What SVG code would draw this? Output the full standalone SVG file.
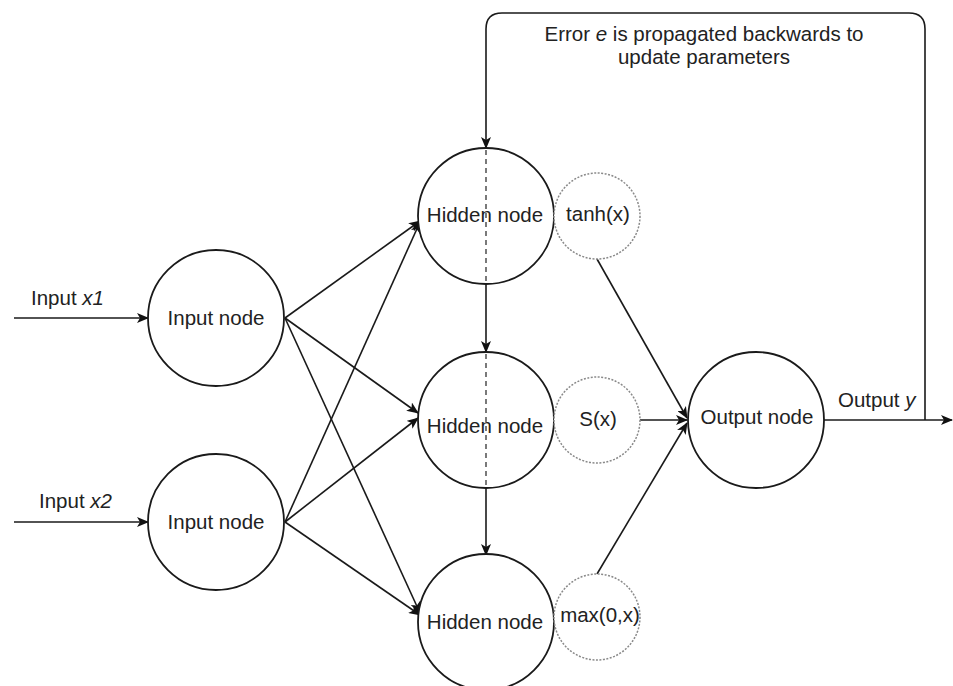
<svg xmlns="http://www.w3.org/2000/svg" width="953" height="686" viewBox="0 0 953 686">
  <defs>
    <marker id="arrow" viewBox="0 0 12 10" refX="11" refY="5" markerWidth="12" markerHeight="10" markerUnits="userSpaceOnUse" orient="auto">
      <path d="M0,0 L12,5 L0,10 L3,5 z" fill="#111"/>
    </marker>
  </defs>
  <style>
    .node { fill: #fff; stroke: #1a1a1a; stroke-width: 1.8; }
    .act { fill: #fff; stroke: #8a8a8a; stroke-width: 1.5; stroke-dasharray: 2 1.5; }
    .edge { fill: none; stroke: #1a1a1a; stroke-width: 1.6; }
    .arr { marker-end: url(#arrow); }
    .dash { fill: none; stroke: #333; stroke-width: 1.3; stroke-dasharray: 5 4; }
    text { font-family: "Liberation Sans", Arial, sans-serif; font-size: 20.5px; fill: #222; }
    .c { text-anchor: middle; }
  </style>
  <rect width="953" height="686" fill="#fff"/>

  <!-- connectors -->
  <g id="connectors">
    <!-- external inputs -->
    <line class="edge arr" x1="14" y1="318" x2="148" y2="318"/>
    <line class="edge arr" x1="14" y1="522" x2="148" y2="522"/>
    <!-- input layer to hidden layer -->
    <line class="edge arr" x1="285" y1="318" x2="420" y2="221"/>
    <line class="edge arr" x1="285" y1="318" x2="418" y2="413"/>
    <line class="edge arr" x1="285" y1="318" x2="420" y2="613"/>
    <line class="edge arr" x1="285" y1="522" x2="420" y2="222"/>
    <line class="edge arr" x1="285" y1="522" x2="418" y2="418"/>
    <line class="edge arr" x1="285" y1="522" x2="420" y2="615"/>
    <!-- activations to output -->
    <line class="edge arr" x1="597" y1="259" x2="687" y2="418"/>
    <line class="edge arr" x1="640" y1="420" x2="687" y2="420"/>
    <line class="edge arr" x1="597" y1="574" x2="687" y2="423"/>
    <!-- output and backward error path -->
    <line class="edge arr" x1="824" y1="420" x2="952" y2="420"/>
    <path class="edge arr" d="M925,420 L925,29 Q925,13 909,13 L502,13 Q486,13 486,29 L486,148"/>
    <!-- vertical update path through hidden layer -->
    <line class="edge arr" x1="486" y1="284" x2="486" y2="352"/>
    <line class="edge arr" x1="486" y1="487" x2="486" y2="555"/>
  </g>

  <!-- input nodes -->
  <g id="input1">
    <circle class="node" cx="216" cy="318" r="68"/>
    <text class="c" x="216" y="325">Input node</text>
  </g>
  <g id="input2">
    <circle class="node" cx="216" cy="522" r="68"/>
    <text class="c" x="216" y="529">Input node</text>
  </g>

  <!-- hidden nodes -->
  <g id="hidden1">
    <circle class="node" cx="486" cy="216" r="68"/>
    <line class="dash" x1="486" y1="150" x2="486" y2="282"/>
    <text class="c" x="485" y="222">Hidden node</text>
  </g>
  <g id="hidden2">
    <circle class="node" cx="486" cy="420" r="68"/>
    <line class="dash" x1="486" y1="354" x2="486" y2="486"/>
    <text class="c" x="485" y="433">Hidden node</text>
  </g>
  <g id="hidden3">
    <circle class="node" cx="486" cy="622" r="68"/>
    <text class="c" x="485" y="629">Hidden node</text>
  </g>

  <!-- activation functions -->
  <g id="act-tanh">
    <circle class="act" cx="597" cy="216" r="43"/>
    <text class="c" x="598" y="221">tanh(x)</text>
  </g>
  <g id="act-sigmoid">
    <circle class="act" cx="597" cy="420" r="43"/>
    <text class="c" x="598" y="426">S(x)</text>
  </g>
  <g id="act-relu">
    <circle class="act" cx="597" cy="617" r="43"/>
    <text class="c" x="600" y="622">max(0,x)</text>
  </g>

  <!-- output node -->
  <g id="output">
    <circle class="node" cx="756" cy="420" r="68"/>
    <text class="c" x="757" y="424">Output node</text>
  </g>

  <!-- edge labels -->
  <g id="labels">
    <text x="31" y="305">Input <tspan font-style="italic">x1</tspan></text>
    <text x="39" y="508">Input <tspan font-style="italic">x2</tspan></text>
    <text x="838" y="407">Output <tspan font-style="italic">y</tspan></text>
    <text class="c" x="704" y="41">Error <tspan font-style="italic">e</tspan> is propagated backwards to</text>
    <text class="c" x="704" y="64">update parameters</text>
  </g>
</svg>
